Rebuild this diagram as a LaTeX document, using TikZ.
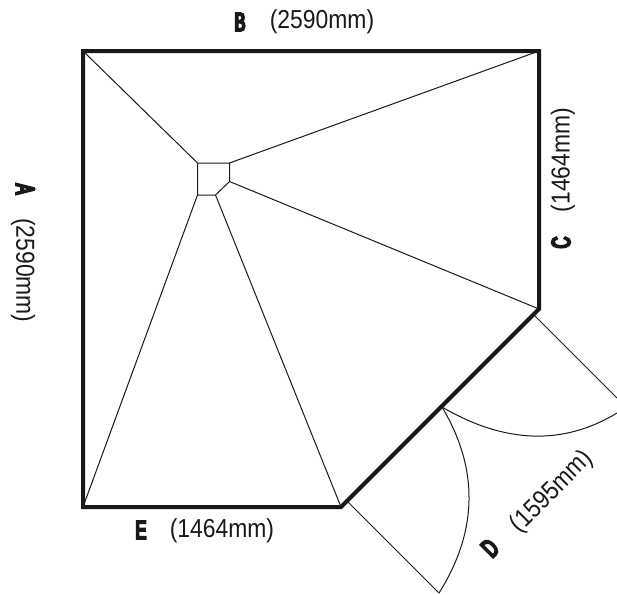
\documentclass[tikz,border=0pt]{standalone}
\usepackage{fontspec}
\setmainfont{Liberation Sans}
\newfontfamily\dimfont[FakeStretch=0.88]{Liberation Sans}
\newfontfamily\letfont[FakeStretch=0.62,FakeBold=8]{Liberation Sans}
\tikzset{
  wall/.style={line width=4pt,line join=miter,color=black!90},
  seam/.style={line width=1pt,color=black!90},
  drain/.style={line width=1pt,color=black!90,line join=miter},
  door/.style={line width=1pt,color=black!90},
  dimtext/.style={font=\dimfont\fontsize{26}{26}\selectfont,inner sep=0pt,text=black!90},
  lettext/.style={font=\letfont\fontsize{26}{26}\selectfont,inner sep=0pt,text=black!90},
}
\begin{document}
\begin{tikzpicture}[x=1pt,y=-1pt]
\useasboundingbox (0,0) rectangle (617,594);
% outer shower outline
\coordinate (o1) at (83,51);
\coordinate (o2) at (539,51);
\coordinate (o3) at (539,309);
\coordinate (o4) at (341,507);
\coordinate (o5) at (83,507);
% central drain
\coordinate (d1) at (197.5,163);
\coordinate (d2) at (229.5,163);
\coordinate (d3) at (229.5,181.5);
\coordinate (d4) at (215.5,195);
\coordinate (d5) at (197.5,195);
% doors
\coordinate (h1) at (535,316);
\coordinate (t1) at (617,398);
\coordinate (h2) at (348,502);
\coordinate (t2) at (439,593);
\coordinate (m) at (442,407);
\coordinate (a1) at (617,413);

\draw[seam] (o1)--(d1);
\draw[seam] (o2)--(d2);
\draw[seam] (o3)--(d3);
\draw[seam] (o5)--(d5);
\draw[seam] (o4)--(d4);
\draw[drain] (d1)--(d2)--(d3)--(d4)--(d5)--cycle;
\draw[door] (h1)--(t1);
\draw[door] (h2)--(t2);
\draw[door] (m) .. controls (504.7,443.7) and (563,445.7) .. (a1);
\draw[door] (m) .. controls (479,469) and (478,531) .. (t2);
\draw[wall] (o1)--(o2)--(o3)--(o4)--(o5)--cycle;

\node[lettext] (lb) at (240,22) {B};
\node[dimtext] (tb) at (322,22) {(2590mm)};
\node[lettext,rotate=-90] (la) at (25,189) {A};
\node[dimtext,rotate=-90] (ta) at (23,270.5) {(2590mm)};
\node[lettext,rotate=90] (lc) at (561,242.5) {C};
\node[dimtext,rotate=90] (tc) at (563,160) {(1464mm)};
\node[lettext,rotate=45] (ld) at (490,548) {D};
\node[dimtext,rotate=45] (td) at (552,492) {(1595mm)};
\node[lettext] (le) at (141,530) {E};
\node[dimtext] (te) at (222,531) {(1464mm)};
\end{tikzpicture}
\end{document}
